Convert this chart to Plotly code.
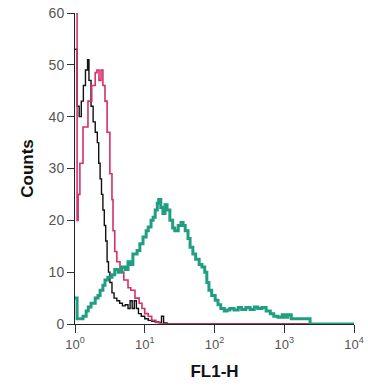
import plotly.graph_objects as go

# log10 positions (decades) and counts
black_dec = [0.00, 0.03, 0.06, 0.09, 0.12, 0.15, 0.18, 0.20, 0.23, 0.26, 0.29, 0.32, 0.34, 0.36, 0.38, 0.40,
             0.42, 0.44, 0.46, 0.48, 0.50, 0.53, 0.56, 0.60, 0.64, 0.68, 0.72, 0.76, 0.79, 0.82, 0.85, 0.88,
             0.91, 0.95, 1.00, 1.05, 1.10, 1.15, 1.20, 1.24, 1.27, 1.32, 4.00]
black_cnt = [53, 42, 40, 43, 46, 49, 51, 47, 42, 39, 37, 35, 31, 28, 25, 22,
             19, 16, 12, 10, 8, 6, 5, 4.5, 4, 3.5, 3.7, 3, 4.5, 3, 4.5, 3,
             2, 1.5, 1, 0.7, 0.5, 0.4, 0.3, 1.5, 0.2, 0, 0]

pink_dec = [0.00, 0.03, 0.045, 0.07, 0.115, 0.186, 0.24, 0.29, 0.315, 0.344, 0.373, 0.40, 0.43, 0.46, 0.50,
            0.53, 0.545, 0.57, 0.60, 0.645, 0.70, 0.76, 0.80, 0.86, 0.92, 0.96, 1.00, 1.05, 1.10, 1.16, 1.22, 4.00]
pink_cnt = [65, 20, 25, 31, 38, 43, 46, 48.5, 49, 47, 49, 46, 43, 37, 29,
            24, 18, 14, 12, 10, 8.5, 7, 6.5, 5, 4, 3, 2, 1.5, 0.7, 0.3, 0, 0]

green_dec = [0.00, 0.03, 0.07, 0.115, 0.16, 0.19, 0.23, 0.29, 0.33, 0.36, 0.40, 0.43, 0.47, 0.53, 0.57, 0.62,
             0.67, 0.72, 0.76, 0.80, 0.83, 0.89, 0.93, 0.975, 1.02, 1.05, 1.09, 1.12, 1.15, 1.18, 1.20, 1.23,
             1.26, 1.29, 1.32, 1.36, 1.40, 1.43, 1.48, 1.52, 1.55, 1.58, 1.62, 1.65, 1.69, 1.73, 1.78, 1.82,
             1.86, 1.89, 1.92, 1.96, 2.01, 2.05, 2.09, 2.14, 2.18, 2.22, 2.28, 2.34, 2.39, 2.45, 2.51, 2.57,
             2.62, 2.68, 2.74, 2.80, 2.85, 2.91, 2.97, 3.01, 3.05, 3.10, 3.15, 3.23, 3.30, 3.37, 4.00]
green_cnt = [5, 1, 1, 1.5, 2.5, 3.3, 4, 5, 5.5, 6.5, 7.5, 8.5, 9, 9.5, 10.5, 10,
             11, 10.5, 12, 11.5, 13.5, 14.2, 15.5, 16.8, 18, 18.7, 20, 20.6, 22, 23.3, 24, 22.5,
             21.3, 23, 22, 20, 18.5, 18, 19, 19.6, 19, 18, 16.5, 14.8, 13.5, 12.5, 11.5, 11,
             10, 8, 6.5, 5.5, 4.6, 3.7, 3.0, 2.5, 2.7, 3.0, 2.7, 3.2, 2.8, 3.2, 2.8, 3.3,
             3.0, 3.2, 2.5, 2.0, 1.5, 1.3, 1.8, 1.3, 1.8, 1.0, 1.0, 1.0, 1.0, 0, 0]

x_tickvals = [1, 10, 100, 1000, 10000]
x_ticktext = ["10<sup>0</sup>", "10<sup>1</sup>", "10<sup>2</sup>", "10<sup>3</sup>", "10<sup>4</sup>"]
y_tickvals = [0, 10, 20, 30, 40, 50, 60]

fig = go.Figure()
fig.add_trace(go.Scatter(x=[10 ** d for d in black_dec], y=black_cnt, mode="lines", line_shape="hv",
                         line=dict(color="#111111", width=1.4)))
fig.add_trace(go.Scatter(x=[10 ** d for d in pink_dec], y=pink_cnt, mode="lines", line_shape="hv",
                         line=dict(color="#d4306e", width=1.6)))
fig.add_trace(go.Scatter(x=[10 ** d for d in green_dec], y=green_cnt, mode="lines", line_shape="hv",
                         line=dict(color="#1f9e80", width=3)))

fig.update_layout(
    width=368, height=391,
    margin=dict(l=75, r=14, t=13, b=67),
    paper_bgcolor="white", plot_bgcolor="white",
    showlegend=False,
    font=dict(family="Liberation Sans, Arial, sans-serif", color="#555555"),
    xaxis=dict(type="log", range=[0, 4], tickvals=x_tickvals, ticktext=x_ticktext, automargin=False,
               ticks="outside", ticklen=8, tickcolor="#333333", showline=True, linecolor="#222222",
               linewidth=1, showgrid=False, zeroline=False, tickfont=dict(size=13, color="#555555"),
               title=dict(text="<b>FL1-H</b>", font=dict(size=17, color="#111111"), standoff=14)),
    yaxis=dict(range=[0, 60], tickvals=y_tickvals, ticks="outside", ticklen=7, tickcolor="#333333",
               showline=True, linecolor="#222222", linewidth=1, showgrid=False, zeroline=False,
               automargin=False, tickfont=dict(size=14, color="#555555"),
               title=dict(text="<b>Counts</b>", font=dict(size=17, color="#111111"), standoff=10)),
)

fig.write_html("out.html")
